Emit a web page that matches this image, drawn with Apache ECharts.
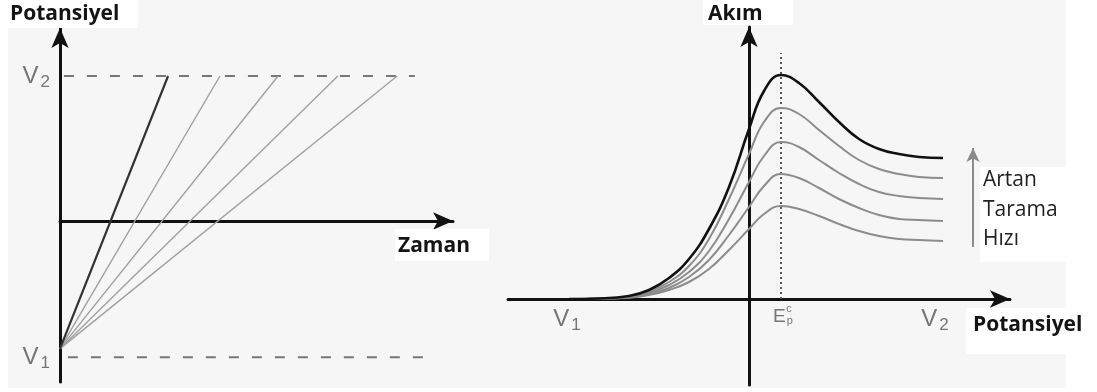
<!DOCTYPE html>
<html>
<head>
<meta charset="utf-8">
<script src="https://cdn.jsdelivr.net/npm/echarts@6/dist/echarts.min.js"></script>
<style>
  html, body { margin: 0; padding: 0; background: #ffffff; }
  #chart { width: 1097px; height: 392px; }
</style>
</head>
<body>
<div id="chart"></div>
<script>
// ---- Left panel: linear potential sweeps (potential vs. time) ----
const sweepStartPotential = -0.88;            // common starting point of all sweeps
const potentialV1 = -0.94;                    // lower limit (dashed line)
const potentialV2 = 1.0;                      // upper limit (dashed line)
const sweepEndTimes = [2.75, 4.07, 5.55, 7.07, 8.58]; // time at which each sweep reaches V2
const limitLineEnds = [9.03, 9.29];           // right ends of the V2 / V1 dashed lines
const limitLabels = ['2', '1'];

// ---- Right panel: voltammograms for increasing scan rate ----
const potentials = [-1.8, -1.5, -1.2, -1.0, -0.8, -0.6, -0.4, -0.2, 0, 0.15, 0.32, 0.5, 0.7, 0.9, 1.1, 1.3, 1.5, 1.7, 1.94];
const currentFast   = [0, 0.005, 0.03, 0.09, 0.21, 0.4, 0.7, 1.12, 1.7, 2.08, 2.24, 2.16, 1.97, 1.77, 1.6, 1.5, 1.45, 1.42, 1.41];
const currentRate4  = [0, 0.005, 0.025, 0.075, 0.17, 0.33, 0.6, 1.0, 1.45, 1.77, 1.91, 1.85, 1.69, 1.53, 1.39, 1.3, 1.25, 1.22, 1.21];
const currentRate3  = [0, 0.004, 0.02, 0.06, 0.14, 0.27, 0.48, 0.8, 1.17, 1.43, 1.57, 1.52, 1.39, 1.26, 1.15, 1.07, 1.03, 1.01, 1.0];
const currentRate2  = [0, 0.003, 0.016, 0.05, 0.11, 0.22, 0.39, 0.64, 0.92, 1.13, 1.25, 1.21, 1.11, 1.0, 0.91, 0.84, 0.8, 0.79, 0.78];
const currentSlow   = [0, 0.002, 0.012, 0.04, 0.09, 0.17, 0.3, 0.49, 0.7, 0.85, 0.93, 0.9, 0.83, 0.75, 0.68, 0.63, 0.6, 0.59, 0.58];
const peakPotential = 0.32;
const peakLineTop = 2.46;
const sweepLimitsRight = [-1.82, 1.86];
const rateArrow = { x: 2.24, from: 0.52, to: 1.51 };
const rateText = ['Artan', 'Tarama', 'Hızı'];

const LABEL_FONT = 'Open Sans';
const SYMBOL_FONT = 'Liberation Sans';

function pairs(xs, ys) { return xs.map((x, i) => [x, ys[i]]); }

const hiddenAxisParts = {
  axisTick: { show: false },
  axisLabel: { show: false },
  splitLine: { show: false }
};
function arrowAxis(extra) {
  return Object.assign({
    type: 'value',
    axisLine: {
      onZero: true,
      symbol: ['none', 'arrow'],
      symbolSize: [13, 20],
      lineStyle: { color: '#111111', width: 3 }
    }
  }, hiddenAxisParts, extra);
}

const subLabelRich = {
  v: { fontFamily: SYMBOL_FONT, fontSize: 24, color: '#555555' },
  s: { fontFamily: SYMBOL_FONT, fontSize: 17, color: '#555555', padding: [12, 0, 0, 2] }
};

const series = [];

// dashed potential limits
series.push({
  type: 'line', xAxisIndex: 0, yAxisIndex: 0, symbol: 'none', silent: true,
  data: [[0.1, potentialV2], [limitLineEnds[0], potentialV2]],
  lineStyle: { color: '#777777', width: 2, type: [10, 13] }
});
series.push({
  type: 'line', xAxisIndex: 0, yAxisIndex: 0, symbol: 'none', silent: true,
  data: [[0.2, potentialV1], [limitLineEnds[1], potentialV1]],
  lineStyle: { color: '#777777', width: 2, type: [10, 13] }
});

// sweeps, fastest first
sweepEndTimes.forEach((t, i) => {
  series.push({
    type: 'line', xAxisIndex: 0, yAxisIndex: 0, symbol: 'none', silent: true,
    data: [[0, sweepStartPotential], [t, potentialV2]],
    z: i === 0 ? 4 : 3,
    lineStyle: i === 0 ? { color: '#333333', width: 2.2 } : { color: '#a0a0a0', width: 1.4 }
  });
});

// V1 / V2 labels on the potential axis
series.push({
  type: 'scatter', xAxisIndex: 0, yAxisIndex: 0, symbolSize: 0, silent: true,
  data: [{ value: [0, potentialV2], name: limitLabels[0] }, { value: [0, potentialV1], name: limitLabels[1] }],
  label: {
    show: true, position: 'left', distance: 10,
    formatter: p => '{v|V}{s|' + p.name + '}',
    rich: subLabelRich
  }
});

// voltammograms, slowest drawn first so the fastest stays on top
[currentSlow, currentRate2, currentRate3, currentRate4].forEach(c => {
  series.push({
    type: 'line', xAxisIndex: 1, yAxisIndex: 1, symbol: 'none', silent: true,
    smooth: 0.45, data: pairs(potentials, c), z: 3,
    lineStyle: { color: '#8c8c8c', width: 2 }
  });
});
series.push({
  type: 'line', xAxisIndex: 1, yAxisIndex: 1, symbol: 'none', silent: true,
  smooth: 0.45, data: pairs(potentials, currentFast), z: 4,
  lineStyle: { color: '#111111', width: 2.6 }
});

// dotted peak potential line
series.push({
  type: 'line', xAxisIndex: 1, yAxisIndex: 1, symbol: 'none', silent: true,
  data: [[peakPotential, 0], [peakPotential, peakLineTop]], z: 2,
  lineStyle: { color: '#555555', width: 2, type: [2, 3] }
});

// potential labels under the axis
series.push({
  type: 'scatter', xAxisIndex: 1, yAxisIndex: 1, symbolSize: 0, silent: true,
  data: [{ value: [sweepLimitsRight[0], 0], name: '1' }, { value: [sweepLimitsRight[1], 0], name: '2' }],
  label: {
    show: true, position: 'bottom', distance: 6,
    formatter: p => '{v|V}{s|' + p.name + '}',
    rich: subLabelRich
  }
});
series.push({
  type: 'scatter', xAxisIndex: 1, yAxisIndex: 1, symbolSize: 0, silent: true,
  data: [{ value: [peakPotential, 0], name: 'p' }],
  label: {
    show: true, position: 'bottom', distance: 8, offset: [2, 0],
    formatter: '{e|E}{s|p}',
    rich: {
      e: { fontFamily: SYMBOL_FONT, fontSize: 19, color: '#555555' },
      s: { fontFamily: SYMBOL_FONT, fontSize: 11, color: '#555555', padding: [8, 0, 0, 1] }
    }
  }
});
series.push({
  type: 'scatter', xAxisIndex: 1, yAxisIndex: 1, symbolSize: 0, silent: true,
  data: [{ value: [peakPotential, 0], name: 'c' }],
  label: {
    show: true, position: 'bottom', distance: 4, offset: [8, 0],
    formatter: 'c',
    fontFamily: SYMBOL_FONT, fontSize: 11, color: '#555555'
  }
});

// scan-rate arrow
series.push({
  type: 'line', xAxisIndex: 1, yAxisIndex: 1, symbol: 'none', silent: true, data: [],
  markLine: {
    silent: true, symbol: ['none', 'arrow'], symbolSize: [10, 14], label: { show: false },
    lineStyle: { color: '#8a8a8a', width: 2, type: 'solid' },
    data: [[{ coord: [rateArrow.x, rateArrow.from] }, { coord: [rateArrow.x, rateArrow.to] }]]
  }
});

const boxes = [
  [8, 0, 130, 28], [395, 229, 94, 32], [703, 0, 90, 25], [980, 167, 117, 95], [966, 308, 131, 46]
];
// y is the top of the text box
const titles = [
  { text: 'Potansiyel', x: 10, y: 4, bold: true },
  { text: 'Zaman', x: 398, y: 236, bold: true },
  { text: 'Akım', x: 708, y: 4, bold: true },
  { text: 'Potansiyel', x: 973, y: 315, bold: true },
  { text: rateText[0], x: 983, y: 170, bold: false },
  { text: rateText[1], x: 983, y: 200, bold: false },
  { text: rateText[2], x: 983, y: 229, bold: false }
];

const graphic = [
  { type: 'rect', z: -10, silent: true, shape: { x: 8, y: 0, width: 1058, height: 388 }, style: { fill: '#f6f6f6' } }
].concat(boxes.map(b => ({
  type: 'rect', z: 50, silent: true, shape: { x: b[0], y: b[1], width: b[2], height: b[3] }, style: { fill: '#ffffff' }
}))).concat(titles.map(t => ({
  type: 'text', z: 60, silent: true, x: t.x, y: t.y,
  style: {
    text: t.text, fill: t.bold ? '#141414' : '#222222', verticalAlign: 'top',
    font: (t.bold ? 'bold 21px ' : '21px ') + '"' + LABEL_FONT + '"'
  }
})));

const option = {
  animation: false,
  backgroundColor: '#ffffff',
  graphic: graphic,
  grid: [
    { left: 60, top: 28, width: 393, height: 354 },
    { left: 508, top: 27, width: 502, height: 358 }
  ],
  xAxis: [
    arrowAxis({ gridIndex: 0, min: 0, max: 10 }),
    arrowAxis({ gridIndex: 1, min: -2.41, max: 2.61 })
  ],
  yAxis: [
    arrowAxis({ gridIndex: 0, min: -1.11, max: 1.331 }),
    arrowAxis({ gridIndex: 1, min: -0.86, max: 2.72 })
  ],
  series: series
};

const chart = echarts.init(document.getElementById('chart'), null, { renderer: 'canvas' });
chart.setOption(option);
</script>
</body>
</html>
